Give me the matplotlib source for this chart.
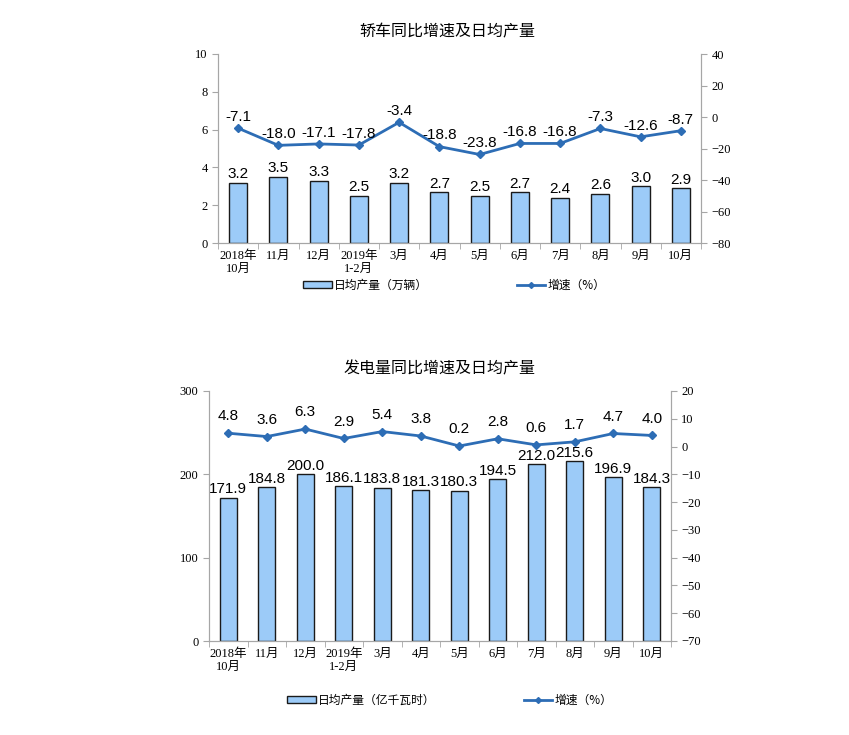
import matplotlib.pyplot as plt
from matplotlib.patches import Patch
from matplotlib.lines import Line2D
import numpy as np

# data
months = ['2018年\n10月', '11月', '12月', '2019年\n1-2月', '3月', '4月',
          '5月', '6月', '7月', '8月', '9月', '10月']

car_output = [3.2, 3.5, 3.3, 2.5, 3.2, 2.7, 2.5, 2.7, 2.4, 2.6, 3.0, 2.9]
car_growth = [-7.1, -18.0, -17.1, -17.8, -3.4, -18.8, -23.8, -16.8, -16.8, -7.3, -12.6, -8.7]

power_output = [171.9, 184.8, 200.0, 186.1, 183.8, 181.3, 180.3, 194.5, 212.0, 215.6, 196.9, 184.3]
power_growth = [4.8, 3.6, 6.3, 2.9, 5.4, 3.8, 0.2, 2.8, 0.6, 1.7, 4.7, 4.0]

BAR_COLOR = '#9CCBF8'
LINE_COLOR = '#2D6DB5'
AXIS_COLOR = '#A6A6A6'
CJK = ['Noto Sans CJK SC', 'DejaVu Sans']
SERIF = ['Liberation Serif', 'Noto Sans CJK SC']
SANS = ['Liberation Sans', 'Noto Sans CJK SC']

fig = plt.figure(figsize=(8.49, 7.35), dpi=100)


def style_axes(ax, ax2):
    ax.spines['top'].set_visible(False)
    ax2.spines['top'].set_visible(False)
    for sp in ['left', 'right', 'bottom']:
        ax.spines[sp].set_color(AXIS_COLOR)
        ax2.spines[sp].set_color(AXIS_COLOR)
    ax.tick_params(axis='y', colors=AXIS_COLOR, length=4, labelcolor='black', labelsize=9)
    ax2.tick_params(axis='y', colors=AXIS_COLOR, length=4, labelcolor='black', labelsize=9)
    for lab in ax.get_yticklabels() + ax2.get_yticklabels():
        lab.set_family(SERIF)
    ax.set_xlim(-0.5, len(months) - 0.5)
    ax.set_xticks(range(len(months)))
    ax.set_xticklabels(months, family=SERIF, fontsize=9, linespacing=1.1)
    ax.set_xticks(np.arange(-0.5, len(months), 1.0), minor=True)
    ax.tick_params(axis='x', which='major', length=0, pad=5)
    ax.tick_params(axis='x', which='minor', length=4, color=AXIS_COLOR)


def draw_chart(rect, title, title_x, output, growth, ylim, ylim2, step, step2,
               bar_off, line_off, legend_label, legend_pos, fmt):
    ax = fig.add_axes(rect)
    ax2 = ax.twinx()
    x = np.arange(len(months))
    ax.bar(x, output, width=0.45, color=BAR_COLOR, edgecolor='#1A1A1A', linewidth=1.0)
    ax.set_ylim(*ylim)
    ax.set_yticks(np.arange(ylim[0], ylim[1] + step / 2, step))
    ax2.plot(x, growth, color=LINE_COLOR, linewidth=2.0, marker='D', markersize=4.5)
    ax2.set_ylim(*ylim2)
    ax2.set_yticks(np.arange(ylim2[0], ylim2[1] + step2 / 2, step2))
    style_axes(ax, ax2)
    for xi, v in zip(x, output):
        ax.annotate(fmt.format(v), (xi, v), xytext=(0, bar_off), textcoords='offset points',
                    ha='center', va='bottom', fontsize=11, family=SANS)
    for xi, v in zip(x, growth):
        ax2.annotate('{:.1f}'.format(v), (xi, v), xytext=(0, line_off), textcoords='offset points',
                     ha='center', va='bottom', fontsize=11, family=SANS)
    ax.set_title(title, family=CJK, fontsize=11.5, fontweight='medium', pad=13, x=title_x)
    handles = [Patch(facecolor=BAR_COLOR, edgecolor='#1A1A1A', linewidth=1.0),
               Line2D([], [], color=LINE_COLOR, linewidth=2.0, marker='D', markersize=3)]
    fig.legend(handles, [legend_label, '增速（%）'], loc='center', bbox_to_anchor=legend_pos,
               ncol=2, frameon=False, prop={'family': CJK, 'size': 8.5},
               handlelength=2.4, handleheight=0.6, handletextpad=0.2, columnspacing=7.5)


draw_chart([218 / 849, 1 - 243 / 735, 483 / 849, 189 / 735], '轿车同比增速及日均产量', 0.474,
           car_output, car_growth, (0, 10), (-80, 40), 2, 20, 1, 3,
           '日均产量（万辆）', (0.535, 1 - 285 / 735), '{:.1f}')

draw_chart([209 / 849, 1 - 641 / 735, 462 / 849, 250 / 735], '发电量同比增速及日均产量', 0.5,
           power_output, power_growth, (0, 300), (-70, 20), 100, 10, 1, 7,
           '日均产量（亿千瓦时）', (0.53, 1 - 700 / 735), '{:.1f}')

fig.savefig('out.png', dpi=100)
